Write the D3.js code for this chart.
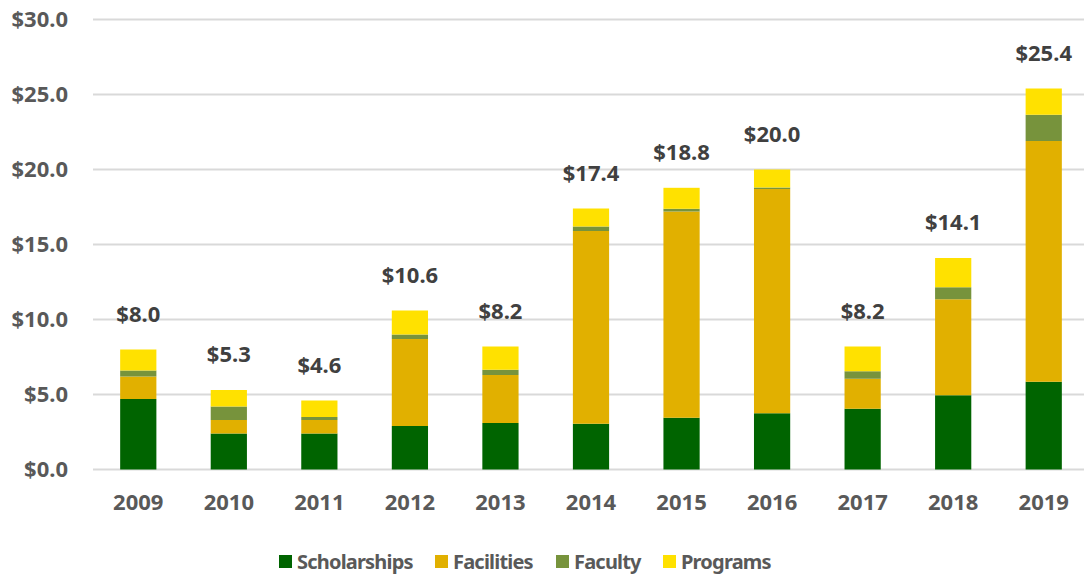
<!DOCTYPE html>
<html>
<head>
<meta charset="UTF-8" />
<script src="https://cdn.jsdelivr.net/npm/d3@7"></script>
<style>
    body { margin: 0; background: white; }
    text { font-family: "Noto Sans", "Open Sans", sans-serif; font-weight: bold; }
</style>
</head>
<body>
<div id="chart"></div>
<script>
const years = ["2009", "2010", "2011", "2012", "2013", "2014", "2015", "2016", "2017", "2018", "2019"];
const scholarships = [4.7, 2.4, 2.4, 2.9, 3.1, 3.05, 3.45, 3.75, 4.05, 4.95, 5.85];
const facilities = [1.5, 0.9, 0.9, 5.8, 3.2, 12.85, 13.75, 14.95, 2.0, 6.4, 16.05];
const faculty = [0.4, 0.9, 0.2, 0.3, 0.35, 0.3, 0.18, 0.1, 0.5, 0.8, 1.75];
const programs = [1.4, 1.1, 1.1, 1.6, 1.55, 1.2, 1.4, 1.2, 1.65, 1.95, 1.75];
const totals = [8.0, 5.3, 4.6, 10.6, 8.2, 17.4, 18.8, 20.0, 8.2, 14.1, 25.4];
const seriesNames = ["Scholarships", "Facilities", "Faculty", "Programs"];
const yTicks = [0, 5, 10, 15, 20, 25, 30];

const w = 1084, h = 577;
const colors = {Scholarships: "#006400", Facilities: "#e1b000", Faculty: "#77933c", Programs: "#ffe100"};

const rows = years.map((y, i) => ({
    year: y,
    Scholarships: scholarships[i],
    Facilities: facilities[i],
    Faculty: faculty[i],
    Programs: programs[i],
    total: totals[i]
}));

const svg = d3.select("#chart").append("svg").attr("width", w).attr("height", h);

const x = d3.scaleBand().domain(years).range([93, 1089]).paddingInner(0.6).paddingOuter(0.3);
const y = d3.scaleLinear().domain([0, 30]).range([469.5, 19.5]);

// gridlines
svg.append("g").selectAll("line").data(yTicks).enter().append("line")
    .attr("x1", 93).attr("x2", w)
    .attr("y1", d => y(d)).attr("y2", d => y(d))
    .attr("stroke", "#d9d9d9").attr("stroke-width", 2);

const yAxis = svg.append("g").attr("transform", "translate(68,0)")
    .call(d3.axisLeft(y).tickValues(yTicks).tickSize(0).tickFormat(d => "$" + d3.format(".1f")(d)));
yAxis.select(".domain").remove();
yAxis.selectAll("text").attr("x", 0).attr("font-size", 22).attr("fill", "#595959")
    .style("font-family", "'Noto Sans', sans-serif").style("font-weight", "bold");

const xAxis = svg.append("g").attr("transform", "translate(0,469.5)")
    .call(d3.axisBottom(x).tickSize(0));
xAxis.select(".domain").remove();
xAxis.selectAll("text").attr("y", 25).attr("font-size", 22).attr("fill", "#595959")
    .style("font-family", "'Noto Sans', sans-serif").style("font-weight", "bold");

const stack = d3.stack().keys(seriesNames)(rows);

svg.append("g").selectAll("g").data(stack).enter().append("g")
    .attr("fill", d => colors[d.key])
    .selectAll("rect").data(d => d).enter().append("rect")
    .attr("x", d => x(d.data.year))
    .attr("width", x.bandwidth())
    .attr("y", d => y(d[1]))
    .attr("height", d => y(d[0]) - y(d[1]));

// totals
svg.append("g").selectAll("text").data(rows).enter().append("text")
    .attr("x", d => x(d.year) + x.bandwidth() / 2)
    .attr("y", d => y(d.total) - 28)
    .attr("text-anchor", "middle")
    .attr("font-size", 22)
    .attr("fill", "#404040")
    .text(d => "$" + d3.format(".1f")(d.total));

// legend
const legendX = [279, 435, 556, 663];
const legend = svg.append("g").selectAll("g").data(seriesNames).enter().append("g")
    .attr("transform", (d, i) => "translate(" + legendX[i] + ",555)");
legend.append("rect").attr("width", 13).attr("height", 13).attr("fill", d => colors[d]);
legend.append("text").attr("x", 18).attr("y", 14).attr("font-size", 20)
    .attr("letter-spacing", -0.8).attr("fill", "#595959").text(d => d);
</script>
</body>
</html>
